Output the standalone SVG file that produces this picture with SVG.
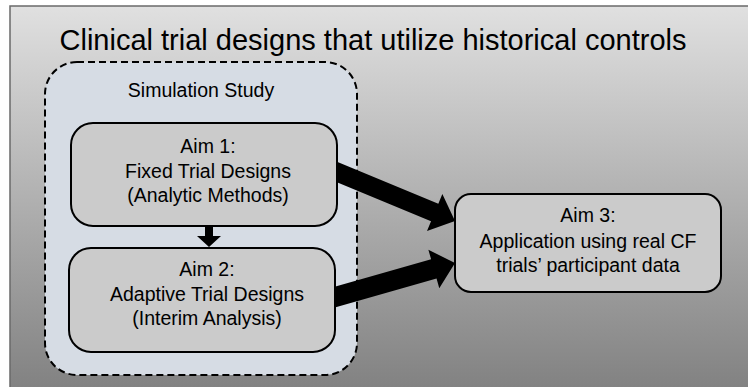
<svg xmlns="http://www.w3.org/2000/svg" width="748" height="387" viewBox="0 0 748 387">
  <defs>
    <linearGradient id="bg" x1="0" y1="6" x2="0" y2="387" gradientUnits="userSpaceOnUse">
      <stop offset="0" stop-color="#e0e0e0"/>
      <stop offset="1" stop-color="#828282"/>
    </linearGradient>
  </defs>
  <style>
    text { font-family: "Liberation Sans", Arial, sans-serif; fill: #000; text-anchor: middle; }
    .title { font-size: 29px; }
    .lbl { font-size: 19.5px; }
    .box { fill: #cbcbcb; stroke: #000; stroke-width: 2; }
    .cont { fill: #d6dce4; stroke: #000; stroke-width: 2; stroke-dasharray: 7 4; }
    .arr { fill: #000; stroke: none; }
  </style>
  <rect x="0" y="0" width="748" height="387" fill="#ffffff"/>
  <rect x="10" y="6" width="745" height="390" fill="url(#bg)" stroke="#6a6a6a" stroke-width="1.5"/>
  <text class="title" x="373" y="50">Clinical trial designs that utilize historical controls</text>

  <g id="simulation-study">
    <rect class="cont" x="45" y="62" width="312" height="313" rx="32" ry="32"/>
    <text class="lbl" x="201" y="97">Simulation Study</text>
  </g>

  <g id="connectors">
    <g transform="translate(455,221) rotate(22.55)">
      <polygon class="arr" points="-135,-9.5 -22,-9.5 -22,-20 0,0 -22,20 -22,9.5 -135,9.5"/>
    </g>
    <g transform="translate(455,263) rotate(-15.8)">
      <polygon class="arr" points="-135,-10 -22,-10 -22,-20 0,0 -22,20 -22,10 -135,10"/>
    </g>
    <polygon class="arr" points="205,224 213,224 213,236 221,236 209,247 197,236 205,236"/>
  </g>

  <g id="aim1">
    <rect class="box" x="71" y="123" width="266" height="103" rx="22" ry="22"/>
    <text class="lbl" x="208" y="153">Aim 1:</text>
    <text class="lbl" x="208" y="178">Fixed Trial Designs</text>
    <text class="lbl" x="208" y="202">(Analytic Methods)</text>
  </g>

  <g id="aim2">
    <rect class="box" x="69" y="248" width="266" height="104" rx="22" ry="22"/>
    <text class="lbl" x="207" y="276">Aim 2:</text>
    <text class="lbl" x="207" y="301">Adaptive Trial Designs</text>
    <text class="lbl" x="207" y="325">(Interim Analysis)</text>
  </g>

  <g id="aim3">
    <rect class="box" x="455" y="194" width="266" height="98" rx="16" ry="16"/>
    <text class="lbl" x="588" y="222">Aim 3:</text>
    <text class="lbl" x="588" y="248">Application using real CF</text>
    <text class="lbl" x="588" y="272">trials’ participant data</text>
  </g>
</svg>
